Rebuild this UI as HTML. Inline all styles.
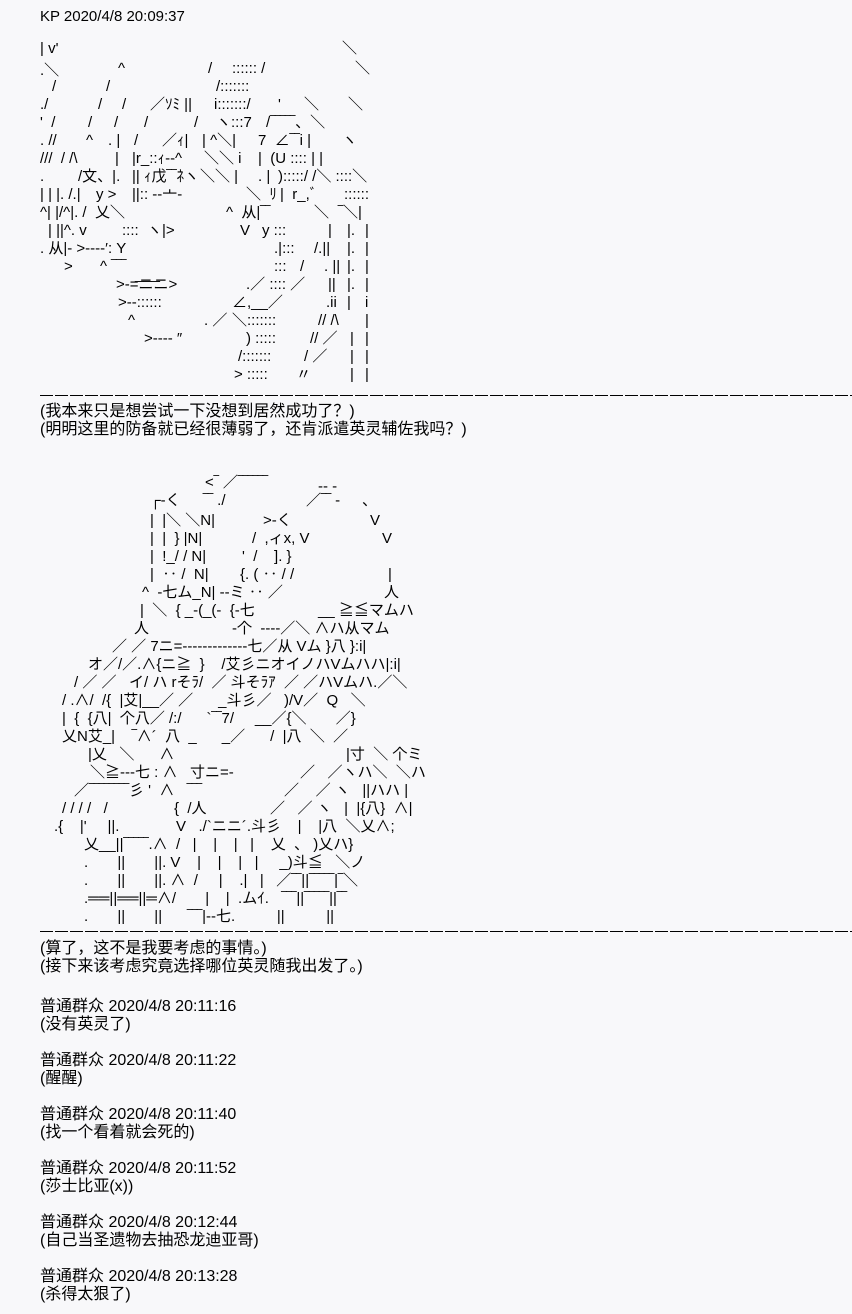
<!DOCTYPE html>
<html><head><meta charset="utf-8"><style>
html,body{margin:0;padding:0;background:#f8f8fa;}
#c{position:relative;width:852px;height:1314px;overflow:hidden;font-family:"Liberation Sans","Noto Sans CJK SC",sans-serif;font-size:15px;color:#000;}
#c div{position:absolute;white-space:pre;line-height:18px;}
#c div.t{font-size:16px;}
.a{font-family:"Liberation Sans","Noto Sans CJK JP",sans-serif;font-size:15px;}
.sep{height:1px;left:40px;width:812px;background:repeating-linear-gradient(90deg,#000 0 13px,transparent 13px 15px);}
</style></head><body><div id="c">
<div style="left:40px;top:8px">KP 2020/4/8 20:09:37</div>

<div class="a" style="left:40px;top:40px">| v'</div><div class="a" style="left:342px;top:40px">＼</div>
<div class="a" style="left:40px;top:62px">.＼</div><div class="a" style="left:118px;top:60px">^</div><div class="a" style="left:208px;top:60px">/</div><div class="a" style="left:232px;top:60px">:::::: /</div><div class="a" style="left:355px;top:60px">＼</div>
<div class="a" style="left:52px;top:78px">/</div><div class="a" style="left:106px;top:78px">/</div><div class="a" style="left:216px;top:78px">/:::::::</div>
<div class="a" style="left:40px;top:96px">./</div><div class="a" style="left:98px;top:96px">/</div><div class="a" style="left:122px;top:96px">/</div><div class="a" style="left:150px;top:96px">／ｿﾐ ||</div><div class="a" style="left:214px;top:96px">i:::::::/</div><div class="a" style="left:278px;top:96px">'</div><div class="a" style="left:304px;top:96px">＼</div><div class="a" style="left:348px;top:96px">＼</div>
<div class="a" style="left:40px;top:114px">'  /</div><div class="a" style="left:88px;top:114px">/</div><div class="a" style="left:114px;top:114px">/</div><div class="a" style="left:144px;top:114px">/</div><div class="a" style="left:194px;top:114px">/</div><div class="a" style="left:216px;top:114px">ヽ:::7</div><div class="a" style="left:266px;top:114px">/‾‾‾‾‾、＼</div>
<div class="a" style="left:40px;top:132px">. //</div><div class="a" style="left:86px;top:132px">^</div><div class="a" style="left:108px;top:132px">. |</div><div class="a" style="left:134px;top:132px">/</div><div class="a" style="left:162px;top:132px">／ｨ|</div><div class="a" style="left:202px;top:132px">| ^＼|</div><div class="a" style="left:258px;top:132px">7  ∠‾‾i |</div><div class="a" style="left:342px;top:132px">ヽ</div>
<div class="a" style="left:40px;top:150px">///  / /\</div><div class="a" style="left:115px;top:150px">|</div><div class="a" style="left:132px;top:150px">|r_::ｨ‐‐^</div><div class="a" style="left:204px;top:150px">＼＼ i</div><div class="a" style="left:258px;top:150px">|  (U :::: | |</div>
<div class="a" style="left:40px;top:168px">.</div><div class="a" style="left:78px;top:168px">/文、|.</div><div class="a" style="left:132px;top:168px">|| ｨ戊‾‾ﾈヽ</div><div class="a" style="left:200px;top:168px">＼＼ |</div><div class="a" style="left:258px;top:168px">. |</div><div class="a" style="left:278px;top:168px">):::::/ /＼ ::::＼</div>
<div class="a" style="left:40px;top:186px">| | |. /.|</div><div class="a" style="left:96px;top:186px">y &gt;</div><div class="a" style="left:132px;top:186px">||:: ‐‐亠‐</div><div class="a" style="left:246px;top:186px">＼  ﾘ</div><div class="a" style="left:280px;top:186px">|  r_,ﾞ</div><div class="a" style="left:344px;top:186px">::::::</div>
<div class="a" style="left:40px;top:204px">^| |/^|. /</div><div class="a" style="left:95px;top:204px">乂＼</div><div class="a" style="left:226px;top:204px">^  从|‾‾</div><div class="a" style="left:314px;top:204px">＼</div><div class="a" style="left:338px;top:204px">‾＼|</div>
<div class="a" style="left:48px;top:222px">| ||^. v</div><div class="a" style="left:122px;top:222px">::::  ヽ|&gt;</div><div class="a" style="left:240px;top:222px">V</div><div class="a" style="left:262px;top:222px">y :::</div><div class="a" style="left:328px;top:222px">|</div><div class="a" style="left:347px;top:222px">|.</div><div class="a" style="left:365px;top:222px">|</div>
<div class="a" style="left:40px;top:240px">. 从|‐ &gt;‐‐‐‐′: Y</div><div class="a" style="left:274px;top:240px">.|:::</div><div class="a" style="left:314px;top:240px">/.||</div><div class="a" style="left:347px;top:240px">|.</div><div class="a" style="left:365px;top:240px">|</div>
<div class="a" style="left:64px;top:258px">&gt;</div><div class="a" style="left:100px;top:258px">^ ‾‾‾</div><div class="a" style="left:274px;top:258px">:::</div><div class="a" style="left:300px;top:258px">/</div><div class="a" style="left:324px;top:258px">. ||</div><div class="a" style="left:347px;top:258px">|.</div><div class="a" style="left:365px;top:258px">|</div>
<div class="a" style="left:135px;top:266px">___</div>
<div class="a" style="left:116px;top:276px">&gt;‐=ニニ&gt;</div><div class="a" style="left:246px;top:276px">.／ :::: ／</div><div class="a" style="left:328px;top:276px">||</div><div class="a" style="left:347px;top:276px">|.</div><div class="a" style="left:365px;top:276px">|</div>
<div class="a" style="left:118px;top:294px">&gt;‐‐::::::</div><div class="a" style="left:232px;top:294px">∠,__／</div><div class="a" style="left:326px;top:294px">.ii</div><div class="a" style="left:347px;top:294px">|</div><div class="a" style="left:365px;top:294px">i</div>
<div class="a" style="left:128px;top:312px">^</div><div class="a" style="left:204px;top:312px">. ／</div><div class="a" style="left:232px;top:312px">＼:::::::</div><div class="a" style="left:318px;top:312px">// /\</div><div class="a" style="left:365px;top:312px">|</div>
<div class="a" style="left:144px;top:330px">&gt;‐‐‐‐ ″</div><div class="a" style="left:246px;top:330px">) :::::</div><div class="a" style="left:310px;top:330px">// ／</div><div class="a" style="left:350px;top:330px">|</div><div class="a" style="left:365px;top:330px">|</div>
<div class="a" style="left:238px;top:348px">/:::::::</div><div class="a" style="left:304px;top:348px">/ ／</div><div class="a" style="left:350px;top:348px">|</div><div class="a" style="left:365px;top:348px">|</div>
<div class="a" style="left:234px;top:366px">&gt; :::::</div><div class="a" style="left:296px;top:366px">〃</div><div class="a" style="left:350px;top:366px">|</div><div class="a" style="left:365px;top:366px">|</div>

<div class="sep" style="top:395px"></div>
<div class="t" style="left:40px;top:403px">(我本来只是想尝试一下没想到居然成功了？)</div>
<div class="t" style="left:40px;top:421px">(明明这里的防备就已经很薄弱了，还肯派遣英灵辅佐我吗？)</div>

<div class="a" style="left:205px;top:474px">&lt;‾ ／‾‾‾‾‾‾</div><div class="a" style="left:318px;top:478px">‐‐ -</div>
<div class="a" style="left:150px;top:492px">┌‐く</div><div class="a" style="left:203px;top:492px">‾‾ ./</div><div class="a" style="left:306px;top:492px">／‾‾ -</div><div class="a" style="left:362px;top:492px">、</div>
<div class="a" style="left:150px;top:512px">|  |＼ ＼N|</div><div class="a" style="left:263px;top:512px">&gt;‐く</div><div class="a" style="left:370px;top:512px">V</div>
<div class="a" style="left:150px;top:530px">|  |  } |N|</div><div class="a" style="left:252px;top:530px">/  ,ィx, V</div><div class="a" style="left:382px;top:530px">V</div>
<div class="a" style="left:150px;top:548px">|  !_/ / N|</div><div class="a" style="left:242px;top:548px">'  /    ]. }</div>
<div class="a" style="left:150px;top:566px">|  ‥ /  N|</div><div class="a" style="left:240px;top:566px">{. ( ‥ / /</div><div class="a" style="left:388px;top:566px">|</div>
<div class="a" style="left:142px;top:584px">^  -七ム_N| ‐‐ミ ‥ ／</div><div class="a" style="left:384px;top:584px">人</div>
<div class="a" style="left:140px;top:602px">|  ＼  { _‐(_(‐  {‐七</div><div class="a" style="left:318px;top:602px">__ ≧≦マムハ</div>
<div class="a" style="left:134px;top:620px">人</div><div class="a" style="left:232px;top:620px">‐个  ‐‐‐‐／＼ ∧ハ从マム</div>
<div class="a" style="left:112px;top:638px">／ ／ 7ニ=‐‐‐‐‐‐‐‐‐‐‐‐‐七／从 Vム }八 }:i|</div>
<div class="a" style="left:88px;top:656px">オ／/／.∧{ニ≧  }    /艾彡ニオイノハVムハハ|:i|</div>
<div class="a" style="left:74px;top:674px">/ ／ ／   イ/ ハ rそﾗ/  ／ 斗そﾗｱ  ／ ／ハVムハ.／＼</div>
<div class="a" style="left:62px;top:692px">/ .∧/  /{  |艾|__／ ／      _斗彡／   )/V／  Q   ＼</div>
<div class="a" style="left:62px;top:710px">|  {  {八|  个八／ /:/      `‾‾7/     __／{＼       ／}</div>
<div class="a" style="left:62px;top:728px">乂N艾_|    ‾∧´  八  _      _／      /  |八  ＼  ／</div>
<div class="a" style="left:88px;top:746px">|乂   ＼      ∧</div><div class="a" style="left:346px;top:746px">|寸  ＼ 个ミ</div>
<div class="a" style="left:90px;top:764px">＼≧‐‐‐七 : ∧   寸ニ=‐</div><div class="a" style="left:300px;top:764px">／   ／ヽハ＼  ＼ハ</div>
<div class="a" style="left:74px;top:782px">／‾‾‾‾‾‾‾‾彡 '  ∧   ‾‾‾</div><div class="a" style="left:284px;top:782px">／    ／ ヽ   ||ハハ |</div>
<div class="a" style="left:62px;top:800px">/ / / /   /</div><div class="a" style="left:174px;top:800px">{  /人</div><div class="a" style="left:270px;top:800px">／   ／ ヽ   |  |{八}  ∧|</div>
<div class="a" style="left:54px;top:818px">.{    |'     ||.</div><div class="a" style="left:176px;top:818px">V   ./`ニニ´.斗彡    |    |八  ＼乂∧;</div>
<div class="a" style="left:84px;top:836px">乂__||‾‾‾‾‾.∧  /   |    |    |   |    乂  、 )乂ハ}</div>
<div class="a" style="left:84px;top:854px">.       ||       ||. V    |    |    |   |     _)斗≦   ＼ノ</div>
<div class="a" style="left:84px;top:872px">.       ||       ||. ∧  /     |    .|   |   ／‾‾||‾‾‾‾‾|‾＼</div>
<div class="a" style="left:84px;top:890px">.══||══||═∧/       |    |  .ムｲ.   ‾‾‾||‾‾‾‾‾||‾‾</div>
<div class="a" style="left:84px;top:908px">.       ||       ||      ‾‾‾|‐‐七.          ||          ||</div>

<div class="sep" style="top:931px"></div>
<div class="t" style="left:40px;top:940px">(算了，这不是我要考虑的事情。)</div>
<div class="t" style="left:40px;top:958px">(接下来该考虑究竟选择哪位英灵随我出发了。)</div>
<div class="t" style="left:40px;top:998px">普通群众 2020/4/8 20:11:16</div>
<div class="t" style="left:40px;top:1016px">(没有英灵了)</div>
<div class="t" style="left:40px;top:1052px">普通群众 2020/4/8 20:11:22</div>
<div class="t" style="left:40px;top:1070px">(醒醒)</div>
<div class="t" style="left:40px;top:1106px">普通群众 2020/4/8 20:11:40</div>
<div class="t" style="left:40px;top:1124px">(找一个看着就会死的)</div>
<div class="t" style="left:40px;top:1160px">普通群众 2020/4/8 20:11:52</div>
<div class="t" style="left:40px;top:1178px">(莎士比亚(x))</div>
<div class="t" style="left:40px;top:1214px">普通群众 2020/4/8 20:12:44</div>
<div class="t" style="left:40px;top:1232px">(自己当圣遗物去抽恐龙迪亚哥)</div>
<div class="t" style="left:40px;top:1268px">普通群众 2020/4/8 20:13:28</div>
<div class="t" style="left:40px;top:1286px">(杀得太狠了)</div>
</div></body></html>
